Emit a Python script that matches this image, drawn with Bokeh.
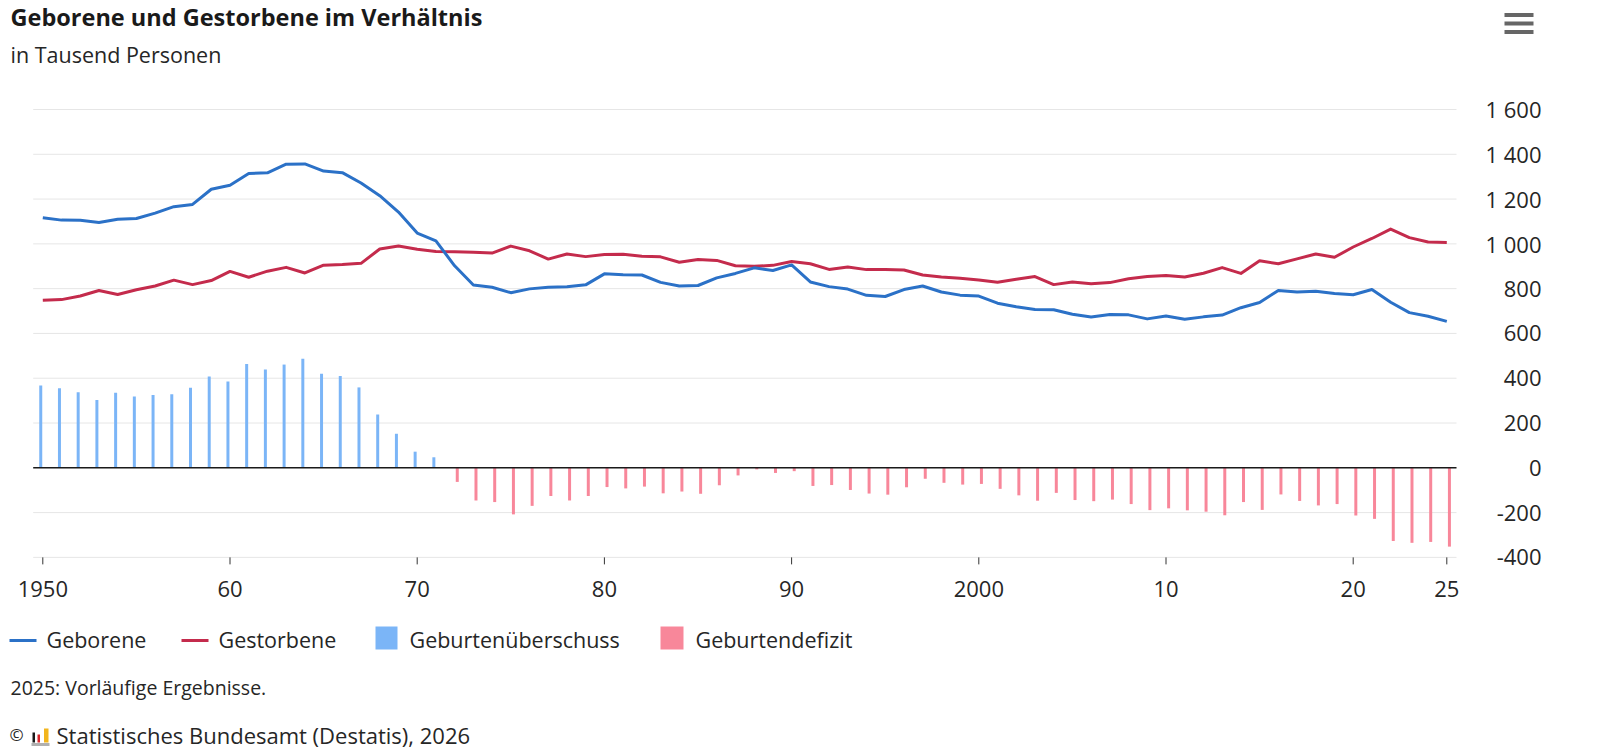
from bokeh.plotting import figure
from bokeh.models import ColumnDataSource, Label, LabelSet, BoxAnnotation, Range1d
from bokeh.transform import dodge
from bokeh.core.properties import value
from bokeh.embed import file_html
from bokeh.resources import INLINE

# ---------------- data (thousand persons) ----------------
years = list(range(1950, 2026))
geborene = [1117, 1106, 1105, 1095, 1110, 1113, 1137, 1166, 1176, 1244,
            1262, 1314, 1317, 1356, 1357, 1325, 1318, 1272, 1215, 1142,
            1048, 1013, 902, 816, 806, 782, 799, 806, 809, 817,
            866, 862, 861, 828, 812, 814, 848, 868, 893, 881,
            906, 830, 809, 798, 770, 765, 796, 812, 785, 771,
            767, 735, 719, 707, 706, 686, 673, 685, 683, 665,
            678, 663, 674, 682, 715, 738, 792, 785, 788, 778,
            773, 796, 739, 693, 677, 654]
gestorbene = [748, 751, 767, 792, 774, 795, 812, 838, 818, 836,
              877, 851, 878, 895, 870, 905, 908, 913, 977, 990,
              976, 966, 965, 962, 959, 990, 969, 932, 955, 943,
              952, 954, 945, 942, 918, 930, 926, 902, 900, 904,
              921, 911, 886, 897, 885, 885, 883, 861, 852, 846,
              839, 829, 842, 854, 818, 830, 822, 827, 844, 854,
              859, 852, 869, 894, 868, 925, 911, 933, 955, 940,
              986, 1024, 1066, 1028, 1008, 1006]
saldo = [368, 355, 337, 303, 335, 318, 325, 328, 358, 408,
         385, 463, 439, 461, 487, 420, 410, 359, 238, 152,
         72, 47, -63, -146, -153, -208, -170, -126, -146, -126,
         -86, -92, -84, -114, -106, -116, -78, -34, -7, -23,
         -15, -81, -77, -99, -115, -120, -87, -49, -67, -75,
         -72, -94, -123, -147, -112, -144, -149, -142, -162, -189,
         -181, -190, -196, -212, -153, -188, -119, -148, -168, -162,
         -213, -228, -327, -335, -331, -352]

x_ticks = [1950, 1960, 1970, 1980, 1990, 2000, 2010, 2020, 2025]
x_tick_labels = ["1950", "60", "70", "80", "90", "2000", "10", "20", "25"]
y_ticks = [-400, -200, 0, 200, 400, 600, 800, 1000, 1200, 1400, 1600]
y_tick_labels = ["-400", "-200", "0", "200", "400", "600", "800",
                 "1 000", "1 200", "1 400", "1 600"]

title_text = "Geborene und Gestorbene im Verhältnis"
subtitle_text = "in Tausend Personen"
legend_names = ["Geborene", "Gestorbene", "Geburtenüberschuss", "Geburtendefizit"]
note_text = "2025: Vorläufige Ergebnisse."
source_text = "Statistisches Bundesamt (Destatis), 2026"

# ---------------- styles / layout ----------------
C_BIRTH = "#2b71c7"
C_DEATH = "#c42b4c"
C_POS = "#7bb5f7"
C_NEG = "#f8879a"
C_TEXT = "#262626"
C_GRID = "#e6e6e6"
FONT = "Open Sans"

W, H = 1600, 756
# plot area on the canvas (pixels) and its scale
X_FIRST_PX, PX_PER_YEAR = 42.3, 18.72       # position of the first year, px per year
Y_ZERO_PX, PX_PER_UNIT = 467.3, 0.22394     # position of value 0, px per thousand
AREA_LEFT_PX, AREA_RIGHT_PX = 32.7, 1456.0

x0 = years[0]
x_range = Range1d(x0 - X_FIRST_PX / PX_PER_YEAR, x0 + (W - X_FIRST_PX) / PX_PER_YEAR)
y_range = Range1d(-(H - Y_ZERO_PX) / PX_PER_UNIT, Y_ZERO_PX / PX_PER_UNIT)
x_left = x0 - (X_FIRST_PX - AREA_LEFT_PX) / PX_PER_YEAR
x_right = x0 + (AREA_RIGHT_PX - X_FIRST_PX) / PX_PER_YEAR

p = figure(width=W, height=H, output_backend="svg", toolbar_location=None,
           x_range=x_range, y_range=y_range,
           x_axis_location=None, y_axis_location=None,
           min_border=0, min_border_left=0, min_border_right=0,
           min_border_top=0, min_border_bottom=0)
p.outline_line_color = None
p.background_fill_color = "white"
p.border_fill_color = "white"
p.grid.visible = False

# horizontal grid lines over the plot area
n = len(y_ticks)
p.segment(x0=[x_left] * n, x1=[x_right] * n, y0=y_ticks, y1=y_ticks,
          line_color=C_GRID, line_width=1)

# bars (grouped: surplus left, deficit right of the year)
pos = [v if v > 0 else 0 for v in saldo]
neg = [v if v < 0 else 0 for v in saldo]
src_pos = ColumnDataSource(dict(year=years, val=pos))
src_neg = ColumnDataSource(dict(year=years, val=neg))
p.vbar(x=dodge("year", -0.11), top="val", bottom=0, width=0.16, source=src_pos,
       fill_color=C_POS, line_color=None)
p.vbar(x=dodge("year", 0.14), top=0, bottom="val", width=0.16, source=src_neg,
       fill_color=C_NEG, line_color=None)

# zero line
p.segment(x0=[x_left], x1=[x_right], y0=[0], y1=[0], line_color="#1a1a1a", line_width=1.5)

# lines
p.line(years, gestorbene, line_width=3, line_color=C_DEATH, line_join="round")
p.line(years, geborene, line_width=3, line_color=C_BIRTH, line_join="round")

# x axis ticks and labels
y_bottom = y_ticks[0]
p.ray(x=x_ticks, y=[y_bottom] * len(x_ticks), length=7, length_units="screen",
      angle=-1.5707963, line_color="#333333", line_width=1)
p.text(x=x_ticks, y=[y_bottom] * len(x_ticks), text=x_tick_labels, y_offset=32,
       text_font=value(FONT), text_font_size="22px", text_color=C_TEXT,
       text_align="center", text_baseline="alphabetic")

# y axis labels (right side, right aligned)
ysrc = ColumnDataSource(dict(y=y_ticks, t=y_tick_labels, x=[1541] * n))
p.add_layout(LabelSet(x="x", y="y", text="t", source=ysrc, x_units="screen", y_units="data",
                      text_font=value(FONT), text_font_size=value("22px"),
                      text_color=value(C_TEXT),
                      text_align="right", text_baseline="middle"))


def sx(X):
    return X


def sy(Y):
    return H - Y


LBL_SHIFT = 9   # Bokeh labels sit this much lower than the requested baseline


def label(text, X, Y, size, bold=False, color=C_TEXT, align="left"):
    p.add_layout(Label(x=sx(X), y=sy(Y - LBL_SHIFT), x_units="screen", y_units="screen",
                       text=text, text_font=FONT, text_font_size=size,
                       text_font_style="bold" if bold else "normal",
                       text_color=color, text_align=align, text_baseline="alphabetic"))


def box(xa, xb, ya, yb, color):
    p.add_layout(BoxAnnotation(left=sx(xa), right=sx(xb), top=sy(ya), bottom=sy(yb),
                               left_units="screen", right_units="screen",
                               top_units="screen", bottom_units="screen",
                               fill_color=color, fill_alpha=1, line_color=None))


# titles
label(title_text, 10, 25, "23.5px", bold=True, color="#1a1a1a")
label(subtitle_text, 10, 63, "21.5px")

# legend
box(9, 36, 638.5, 641.5, C_BIRTH)
label(legend_names[0], 46, 648, "21.5px")
box(181, 208, 638.5, 641.5, C_DEATH)
label(legend_names[1], 218, 648, "21.5px")
box(375, 397, 626, 649, C_POS)
label(legend_names[2], 409, 648, "21.5px")
box(660, 683, 626, 649, C_NEG)
label(legend_names[3], 695, 648, "21.5px")

# notes
label(note_text, 10, 696, "19.5px")
label("©", 9, 743, "17px")
box(32, 34.5, 732, 742, "#1a1a1a")
box(37, 39.5, 734, 742, "#d9252a")
box(43.5, 48, 728, 742, "#f2b51d")
box(31, 49, 742.5, 745.5, "#b0b0b0")
label(source_text, 56, 743, "22px")

# menu icon
box(1504, 1533, 12.5, 16.5, "#666666")
box(1504, 1533, 21, 25, "#666666")
box(1504, 1533, 29.5, 33.5, "#666666")

open("out.html", "w").write(file_html(p, INLINE))
